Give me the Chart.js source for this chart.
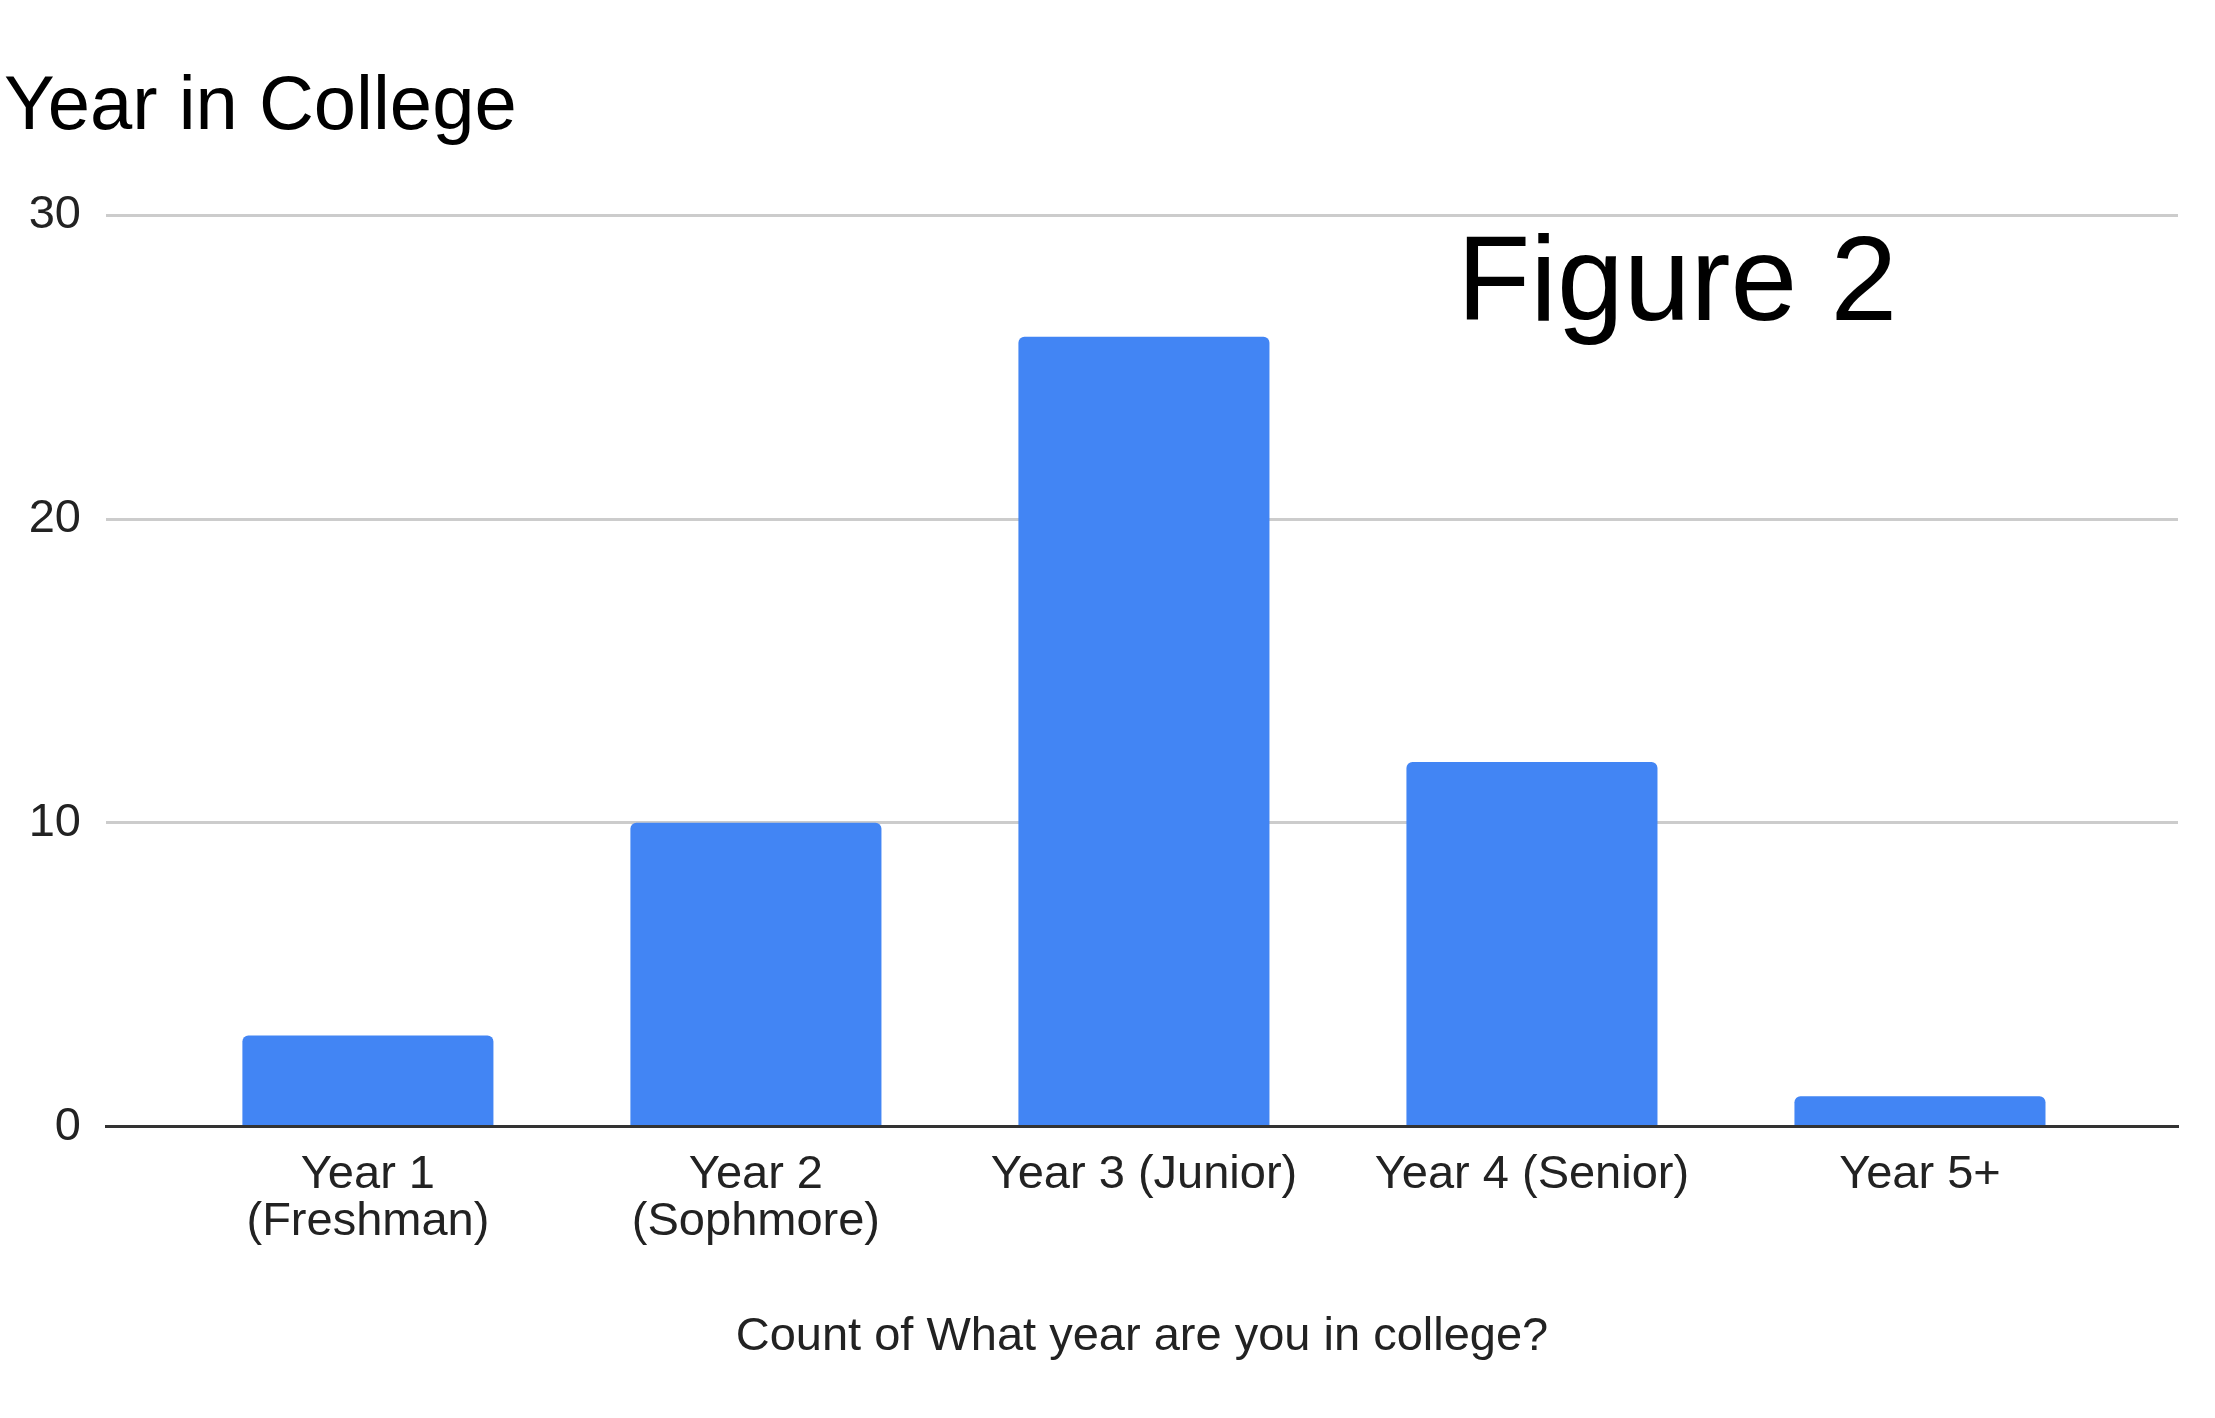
<!DOCTYPE html>
<html>
<head>
<meta charset="utf-8">
<script src="https://cdn.jsdelivr.net/npm/chart.js@4.4.1/dist/chart.umd.min.js"></script>
<style>
  html, body { margin: 0; padding: 0; background: #fff; }
  #wrap { position: relative; width: 2215px; height: 1418px; }
  #fig { position: absolute; left: 1457px; top: 218px; font: 120px/1 "Liberation Sans", Arial, sans-serif; color: #000; white-space: nowrap; }
</style>
</head>
<body>
<div id="wrap">
  <canvas id="myChart" width="2215" height="1418"></canvas>
  <div id="fig">Figure 2</div>
</div>
<script>
var categories = ['Year 1 (Freshman)', 'Year 2 (Sophmore)', 'Year 3 (Junior)', 'Year 4 (Senior)', 'Year 5+'];
var tickLabels = [['Year 1', '(Freshman)'], ['Year 2', '(Sophmore)'], 'Year 3 (Junior)', 'Year 4 (Senior)', 'Year 5+'];
var counts = [3, 10, 26, 12, 1];
var yTicks = [0, 10, 20, 30];

var font = '"Liberation Sans", Arial, sans-serif';
var ctx = document.getElementById('myChart').getContext('2d');

var chart = new Chart(ctx, {
    type: 'bar',
    data: {
        datasets: [{
            label: 'Count of What year are you in college?',
            data: counts.map(function (v, i) { return { x: i, y: v }; }),
            backgroundColor: '#4285F4',
            borderRadius: { topLeft: 6, topRight: 6 },
            borderSkipped: 'bottom',
            barPercentage: 0.647,
            categoryPercentage: 1
        }]
    },
    options: {
        responsive: false,
        animation: false,
        layout: { padding: { left: 4, right: 37, top: 0, bottom: 53 } },
        plugins: {
            legend: { display: false },
            tooltip: { enabled: false },
            title: {
                display: true,
                text: 'Year in College',
                align: 'start',
                color: '#000',
                font: { family: font, size: 76, weight: 'normal' },
                padding: { top: 62, bottom: 62 }
            }
        },
        scales: {
            x: {
                type: 'linear',
                offset: false,
                min: -0.675,
                max: 4.665,
                afterBuildTicks: function (axis) {
                    axis.ticks = categories.map(function (c, i) { return { value: i }; });
                },
                grid: { display: false, drawTicks: false },
                border: { color: '#333', width: 3 },
                ticks: {
                    autoSkip: false,
                    maxRotation: 0,
                    padding: 25,
                    color: '#222',
                    font: { family: font, size: 47, lineHeight: 1.0 },
                    callback: function (value) { return tickLabels[value]; }
                },
                title: {
                    display: true,
                    text: 'Count of What year are you in college?',
                    color: '#222',
                    font: { family: font, size: 47 },
                    padding: { top: 38, bottom: 0 }
                }
            },
            y: {
                min: 0,
                max: 30,
                afterBuildTicks: function (axis) {
                    axis.ticks = yTicks.map(function (v) { return { value: v }; });
                },
                afterFit: function (axis) { axis.width = 102; },
                grid: {
                    drawTicks: false,
                    color: function (c) { return c.tick && c.tick.value === 0 ? '#333' : '#cccccc'; },
                    lineWidth: 3
                },
                border: { display: false },
                ticks: {
                    padding: 25,
                    color: '#222',
                    font: { family: font, size: 47 }
                }
            }
        }
    }
});
</script>
</body>
</html>
